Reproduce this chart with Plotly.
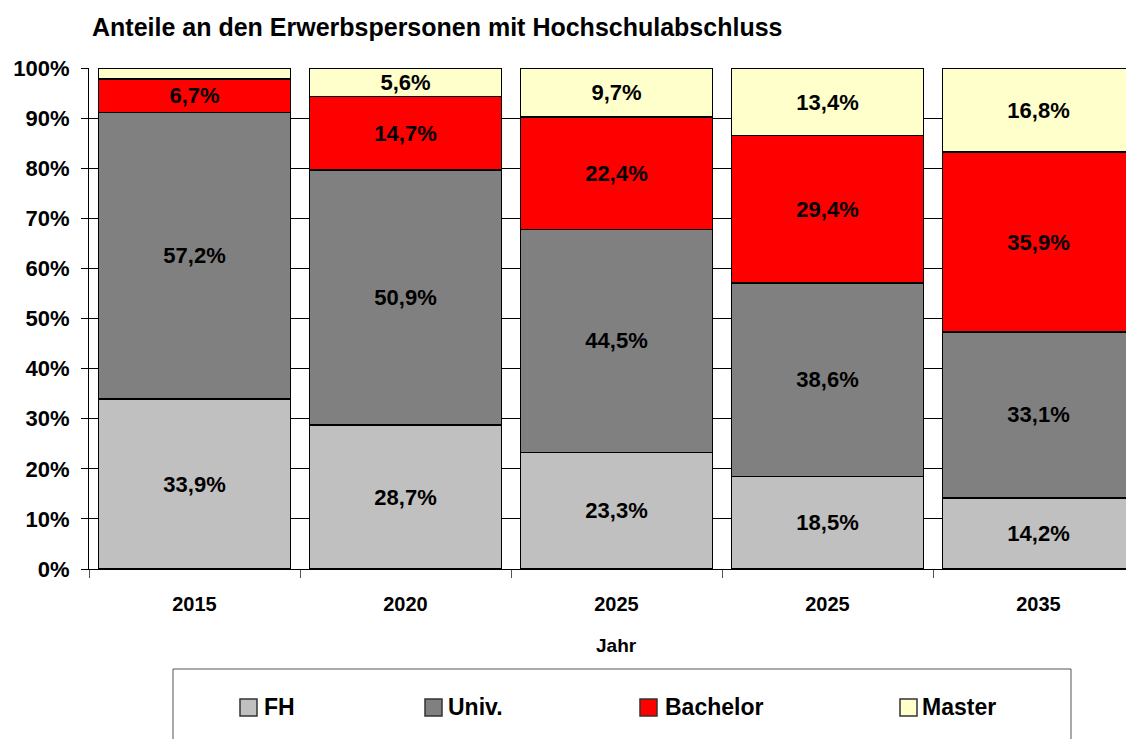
import plotly.graph_objects as go

years = ["2015", "2020", "2025", "2025", "2035"]
fh = [33.9, 28.7, 23.3, 18.5, 14.2]
univ = [57.2, 50.9, 44.5, 38.6, 33.1]
bachelor = [6.7, 14.7, 22.4, 29.4, 35.9]
master = [2.2, 5.6, 9.7, 13.4, 16.8]

series_names = ["FH", "Univ.", "Bachelor", "Master"]
series_colors = ["#C0C0C0", "#808080", "#FF0000", "#FFFFCC"]
y_ticks = list(range(0, 101, 10))

W, H = 1126, 739
L, T, B = 89, 68, 170
CAT_PX = 211  # pixel width of one category
FONT = "Liberation Sans, Arial, sans-serif"


def pct(v):
    return f"{v:.1f}".replace(".", ",") + "%"


# pixel -> paper coordinates
def px_x(p):
    return (p - L) / (W - L)


def px_y(p):
    return (H - B - p) / (H - B - T)


x = list(range(len(years)))
fig = go.Figure()
for name, color, vals in zip(series_names, series_colors, [fh, univ, bachelor, master]):
    fig.add_trace(go.Bar(
        x=x, y=vals, name=name,
        marker=dict(color=color, line=dict(color="black", width=1.5)),
        text=[pct(v) if v >= 3 else "" for v in vals],
        textposition="inside", insidetextanchor="middle", textangle=0,
        constraintext="none",
        textfont=dict(family=FONT, size=22, color="black", weight="bold"),
        hoverinfo="skip", showlegend=False))

fig.update_layout(
    width=W, height=H, barmode="stack", bargap=0.09,
    margin=dict(l=L, r=0, t=T, b=B),
    plot_bgcolor="white", paper_bgcolor="white",
    font=dict(family=FONT, color="black"),
    title=dict(text="Anteile an den Erwerbspersonen mit Hochschulabschluss",
               font=dict(size=25, weight="bold", color="black"),
               x=92 / W, xanchor="left", xref="container",
               y=1 - 27 / H, yanchor="middle", yref="container"),
)

fig.update_xaxes(
    range=[-0.5, -0.5 + (W - L) / CAT_PX],
    tickmode="array", tickvals=x, ticktext=years, ticks="",
    tickfont=dict(size=20, weight="bold"), ticklabelstandoff=17,
    showline=True, linecolor="black", linewidth=1,
    showgrid=False, zeroline=False,
    minor=dict(tickmode="linear", tick0=-0.5, dtick=1, ticks="outside",
               ticklen=8, tickcolor="#555555", showgrid=False),
)
fig.update_yaxes(
    range=[0, 100], tickmode="array", tickvals=y_ticks,
    ticktext=[f"{v}%" for v in y_ticks],
    ticks="outside", ticklen=7, tickcolor="black",
    tickfont=dict(size=22, weight="bold"), ticklabelstandoff=7,
    showline=True, linecolor="black", linewidth=1,
    showgrid=True, gridcolor="black", gridwidth=1, zeroline=False,
)

# axis title
fig.add_annotation(text="Jahr", x=2, xref="x", y=px_y(645), yref="paper",
                   yanchor="middle", showarrow=False, font=dict(size=19, weight="bold"))

# legend box
fig.add_shape(type="rect", xref="paper", yref="paper",
              x0=px_x(173), x1=px_x(1071), y0=px_y(669), y1=px_y(760),
              line=dict(color="#555555", width=1), fillcolor="white", layer="below")
leg_sq = [240, 425, 640, 900]
leg_tx = [262, 446, 663, 920]
for name, color, sx, tx in zip(series_names, series_colors, leg_sq, leg_tx):
    fig.add_shape(type="rect", xref="paper", yref="paper",
                  x0=px_x(sx), x1=px_x(sx + 17), y0=px_y(699), y1=px_y(716),
                  line=dict(color="#333333", width=1.5), fillcolor=color)
    fig.add_annotation(text=name, x=px_x(tx), y=px_y(707.5), xref="paper", yref="paper",
                       xanchor="left", yanchor="middle", showarrow=False,
                       font=dict(size=23, weight="bold"))

fig.write_html("out.html", config={"displayModeBar": False},
               post_script="document.body.style.margin='0';")
